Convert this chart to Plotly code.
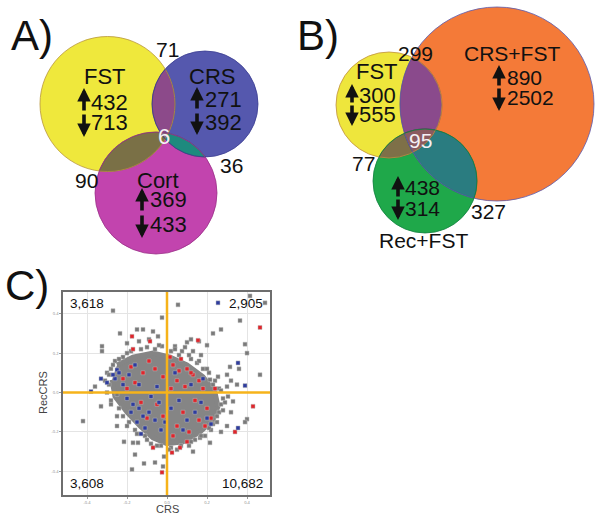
import math
import plotly.graph_objects as go

W, H = 602, 519

# ---------------- data ----------------
venn_a_sets = ["FST", "CRS", "Cort"]
venn_a_up = [432, 271, 369]
venn_a_down = [713, 392, 433]
venn_a_pairs = [71, 90, 36]        # FST&CRS, FST&Cort, CRS&Cort
venn_a_triple = 6

venn_b_sets = ["FST", "CRS+FST", "Rec+FST"]
venn_b_up = [300, 890, 438]
venn_b_down = [555, 2502, 314]
venn_b_pairs = [299, 77, 327]      # FST&CRS+FST, FST&Rec+FST, CRS+FST&Rec+FST
venn_b_triple = 95

quadrant_labels = ["3,618", "2,905", "3,608", "10,682"]  # TL, TR, BL, BR
tick_vals = [-0.4, -0.2, 0.0, 0.2, 0.4]
tick_text = ["-0.4", "-0.2", "0.0", "0.2", "0.4"]

# dense core of the scatter cloud (outline)
cloud_x = [-0.25, -0.17, -0.07, 0.015, 0.10, 0.18, 0.24, 0.255, 0.23, 0.165, 0.08, 0.0,
           -0.07, -0.135, -0.20, -0.26, -0.275]
cloud_y = [0.14, 0.18, 0.20, 0.18, 0.14, 0.08, 0.0, -0.07, -0.14, -0.20, -0.25, -0.26,
           -0.23, -0.17, -0.10, -0.02, 0.065]

gray_x = [0.055, -0.27, -0.025, 0.365, 0.415, 0.49, 0.27, 0.23, 0.16, 0.2, 0.10, 0.12, 0.39, 0.40,
          0.315, 0.36, 0.465, 0.30, 0.255, 0.215, 0.305, 0.33, 0.40, 0.39, 0.27, 0.23, 0.215, 0.165,
          0.13, -0.015, -0.02, -0.06, -0.115, -0.175, -0.145, -0.17, -0.215, -0.16, -0.25, -0.42,
          -0.325, -0.325, -0.235, -0.25, -0.15, -0.12, -0.07, -0.2, -0.045, -0.025, 0.04, 0.075,
          -0.28, -0.30, -0.26, -0.22, -0.18, -0.10, -0.06, 0.02, 0.06, 0.12, 0.15, 0.18, 0.21, 0.23,
          0.26, 0.28, 0.27, 0.26, 0.25, 0.22, 0.19, 0.14, 0.11, 0.05, 0.02, -0.03, -0.08, -0.11,
          -0.16, -0.19, -0.22, -0.24, -0.28, -0.30, -0.29, -0.31, 0.32, 0.35, 0.30, 0.13, 0.17,
          0.09, -0.14, -0.09, -0.33, -0.36, 0.30, 0.32,
          -0.29, -0.27, -0.24, -0.20, -0.13, -0.04, 0.04, 0.11, 0.16, 0.20, 0.24, 0.27, 0.29,
          0.28, 0.25, 0.21, 0.17, 0.12, 0.07, 0.01, -0.05, -0.10, -0.15, -0.20, -0.25, -0.28]
gray_y = [0.445, 0.415, 0.38, 0.365, 0.49, 0.455, 0.32, 0.30, 0.26, 0.24, 0.255, 0.27, 0.245, 0.20,
          0.13, 0.12, 0.09, 0.03, 0.08, 0.065, -0.02, -0.045, -0.135, -0.15, -0.20, -0.16, -0.255,
          -0.23, -0.30, -0.325, -0.375, -0.355, -0.36, -0.39, -0.255, -0.255, -0.25, -0.315, -0.17,
          -0.145, 0.235, 0.21, 0.30, -0.01, 0.32, 0.32, 0.31, 0.25, 0.285, 0.235, 0.235, 0.21,
          0.12, 0.10, 0.16, 0.18, 0.21, 0.23, 0.22, 0.21, 0.19, 0.17, 0.15, 0.12, 0.10, 0.04,
          0.02, -0.03, -0.06, -0.10, -0.12, -0.19, -0.22, -0.24, -0.27, -0.29, -0.28, -0.27, -0.26,
          -0.22, -0.19, -0.15, -0.12, -0.08, -0.04, 0.00, 0.04, 0.06, 0.06, 0.04, 0.09, 0.21, 0.19,
          0.23, 0.26, 0.27, -0.07, 0.03, -0.17, -0.10,
          0.09, 0.14, 0.17, 0.20, 0.22, 0.24, 0.22, 0.19, 0.16, 0.12, 0.06, 0.01, -0.05,
          -0.09, -0.15, -0.18, -0.22, -0.25, -0.27, -0.29, -0.27, -0.24, -0.21, -0.17, -0.12, -0.06]

red_x = [0.465, 0.43, 0.34, 0.10, 0.065, 0.025, -0.025, -0.07, -0.175, -0.085, -0.17, 0.015, 0.155,
         0.03, 0.06, 0.10, 0.13, 0.16, 0.05, 0.09, 0.12, 0.02, -0.02, -0.06, -0.12, -0.16, -0.18,
         -0.09, 0.18, 0.14, 0.20, 0.16, 0.22, 0.08, 0.05, 0.11, -0.05, -0.13, -0.10, 0.03, -0.02,
         0.07, -0.20, -0.22, 0.19, 0.24]
red_y = [0.33, -0.07, -0.20, -0.25, -0.28, -0.305, -0.405, -0.28, 0.285, 0.26, 0.22, 0.18, 0.265,
         0.14, 0.11, 0.12, 0.09, 0.06, 0.06, 0.03, 0.10, 0.02, 0.08, 0.12, 0.10, 0.05, 0.13,
         0.16, 0.02, -0.04, -0.08, -0.14, -0.13, -0.10, -0.17, -0.20, -0.06, -0.05, -0.13, -0.22,
         -0.12, 0.17, 0.02, 0.07, -0.17, 0.02]

blue_x = [0.255, 0.355, 0.39, 0.355, -0.38, -0.33, -0.30, -0.25, -0.20, -0.17, -0.14, -0.12, -0.09,
          -0.06, -0.15, -0.04, -0.08, -0.11, -0.03, -0.18, -0.22, -0.19, -0.24, -0.14, -0.16, -0.05,
          0.02, 0.06, 0.10, 0.14, 0.17, 0.08, 0.20, 0.12, 0.04, 0.18, -0.01, -0.13, 0.22, -0.26,
          -0.27]
blue_y = [0.455, 0.15, 0.035, -0.18, 0.005, 0.07, 0.05, 0.115, -0.03, -0.06, -0.08, -0.12, -0.10,
          -0.14, -0.15, -0.05, -0.02, -0.18, -0.19, -0.10, 0.04, 0.09, 0.10, 0.04, 0.14, 0.03,
          -0.08, -0.04, -0.14, -0.10, -0.05, -0.19, -0.13, 0.04, 0.10, 0.07, -0.15, -0.21, -0.16,
          0.07, 0.09]

FONT = "Liberation Sans, Arial"


# ---------------- helpers (pixel -> paper) ----------------
def X(px):
    return px / W


def Y(py):
    return 1 - py / H


def circle_pts(c, n=240):
    cx, cy, r = c
    return [(cx + r * math.cos(2 * math.pi * k / n), cy + r * math.sin(2 * math.pi * k / n))
            for k in range(n)]


def clip_convex(subject, clip, center):
    """Sutherland-Hodgman clipping of `subject` by convex polygon `clip`."""
    out = subject
    n = len(clip)
    for i in range(n):
        e1, e2 = clip[i], clip[(i + 1) % n]

        def side(p):
            return (e2[0] - e1[0]) * (p[1] - e1[1]) - (e2[1] - e1[1]) * (p[0] - e1[0])

        sc = side(center)

        def inside(p):
            return side(p) * sc >= 0

        def inter(p, q):
            sp, sq = side(p), side(q)
            t = sp / (sp - sq)
            return (p[0] + t * (q[0] - p[0]), p[1] + t * (q[1] - p[1]))

        inp = out
        out = []
        if not inp:
            break
        m = len(inp)
        for j in range(m):
            p, q = inp[j], inp[(j + 1) % m]
            ip, iq = inside(p), inside(q)
            if ip and iq:
                out.append(q)
            elif ip and not iq:
                out.append(inter(p, q))
            elif not ip and iq:
                out.append(inter(p, q))
                out.append(q)
    return out


def clip_circle(poly, c):
    return clip_convex(poly, circle_pts(c), (c[0], c[1]))


def path_of(pts):
    return "M " + " L ".join(f"{X(x):.5f},{Y(y):.5f}" for x, y in pts) + " Z"


shapes = []
annotations = []


def add_circle(c, fill):
    cx, cy, r = c
    shapes.append(dict(type="circle", xref="paper", yref="paper", x0=X(cx - r), x1=X(cx + r),
                       y0=Y(cy + r), y1=Y(cy - r), fillcolor=fill, line=dict(width=0)))


def add_outline(c, line):
    cx, cy, r = c
    shapes.append(dict(type="circle", xref="paper", yref="paper", x0=X(cx - r), x1=X(cx + r),
                       y0=Y(cy + r), y1=Y(cy - r), fillcolor="rgba(0,0,0,0)",
                       line=dict(width=0.8, color=line)))


def add_poly(pts, fill):
    if len(pts) > 2:
        shapes.append(dict(type="path", xref="paper", yref="paper", path=path_of(pts),
                           fillcolor=fill, line=dict(width=0.6, color="rgba(60,60,60,0.45)")))


def text(px, py, s, size=22, color="#111111", xanchor="center"):
    annotations.append(dict(x=X(px), y=Y(py), xref="paper", yref="paper", text=s, showarrow=False,
                            xanchor=xanchor, yanchor="middle",
                            font=dict(family=FONT, size=size, color=color)))


def arrow(px, ytop, ybot, up=True):
    if up:
        tip, tail = ytop, ybot
    else:
        tip, tail = ybot, ytop
    annotations.append(dict(x=X(px), y=Y(tip), xref="paper", yref="paper", ax=0,
                            ay=tail - tip, text="", showarrow=True, arrowhead=2,
                            arrowsize=0.75, arrowwidth=3.6, arrowcolor="#111111"))


def venn(circles, fills, outlines, pair_fills, triple_fill):
    for c, f in zip(circles, fills):
        add_circle(c, f)
    pairs = [(0, 1), (0, 2), (1, 2)]
    for (i, j), f in zip(pairs, pair_fills):
        add_poly(clip_circle(circle_pts(circles[i]), circles[j]), f)
    tri = clip_circle(clip_circle(circle_pts(circles[0]), circles[1]), circles[2])
    add_poly(tri, triple_fill)
    for c, l in zip(circles, outlines):
        add_outline(c, l)


# ---------------- panel A ----------------
circ_a = [(107.5, 104, 67.5), (205, 104, 53), (156, 193, 61)]
venn(circ_a, ["#EFE83C", "#5558AE", "#C244AE"], ["#B8953A", "#3A3C90", "#9A3088"],
     ["#8C4A8A", "#7A7046", "#1E8A7E"], "#8E6E80")

text(32, 36, "A)", size=42)
text(105, 76, venn_a_sets[0])
text(212, 76, venn_a_sets[1])
text(158, 180, venn_a_sets[2])
a_num_pos = [(84, 89, (88, 112), (113, 137), 102, 123),
             (197, 203, (87, 110), (112, 135), 100, 122),
             (142, 148, (188, 212), (214, 238), 200, 225)]
for k, (ax_, nx, ur, dr, yu, yd) in enumerate(a_num_pos):
    arrow(ax_, ur[0], ur[1], True)
    arrow(ax_, dr[0], dr[1], False)
    text(nx, yu, str(venn_a_up[k]), xanchor="left")
    text(nx, yd, str(venn_a_down[k]), xanchor="left")
text(167, 50, str(venn_a_pairs[0]), size=21)
text(86, 180, str(venn_a_pairs[1]), size=21)
text(231, 165, str(venn_a_pairs[2]), size=21)
text(164, 137, str(venn_a_triple), size=22, color="#F4F0F4")

# ---------------- panel B ----------------
circ_b = [(389, 105, 53), (497, 104, 97), (425, 181, 52)]
venn(circ_b, ["#EEE63C", "#F47A38", "#1FA84A"], ["#C09040", "#5A5AB0", "#128040"],
     ["#8A4A8C", "#7E7048", "#2A7C80"], "#8A5A60")

text(318, 36, "B)", size=42)
text(377, 72, venn_b_sets[0], size=22)
text(512, 53, venn_b_sets[1], size=21)
text(423, 240, venn_b_sets[2], size=21)
b_num_pos = [(352, 357, (84, 104), (104, 126), 95, 114, 22),
             (499, 505, (65, 87), (87, 111), 77, 97, 21),
             (398, 403, (176, 198), (198, 220), 188, 208, 21)]
for k, (ax_, nx, ur, dr, yu, yd, fs) in enumerate(b_num_pos):
    arrow(ax_, ur[0], ur[1], True)
    arrow(ax_, dr[0], dr[1], False)
    text(nx, yu, str(venn_b_up[k]), xanchor="left", size=fs)
    text(nx, yd, str(venn_b_down[k]), xanchor="left", size=fs)
text(415, 53, str(venn_b_pairs[0]), size=21)
text(363, 163, str(venn_b_pairs[1]), size=21)
text(488, 212, str(venn_b_pairs[2]), size=21)
text(420, 140, str(venn_b_triple), size=21, color="#F4F0F4")

# ---------------- panel C ----------------
text(27, 285, "C)", size=42)
text(167, 509, "CRS", size=11, color="#444444")
annotations.append(dict(x=X(43), y=Y(393), xref="paper", yref="paper", text="RecCRS",
                        showarrow=False, textangle=-90, xanchor="center", yanchor="middle",
                        font=dict(family=FONT, size=11, color="#444444")))

fig = go.Figure()
fig.add_trace(go.Scatter(x=cloud_x, y=cloud_y, mode="lines", fill="toself",
                         fillcolor="#858585", line=dict(color="#858585", width=5),
                         hoverinfo="skip", showlegend=False))
mk = dict(symbol="square", size=4, line=dict(width=0.5, color="#BBBBBB"))
fig.add_trace(go.Scatter(x=gray_x, y=gray_y, mode="markers", showlegend=False,
                         marker=dict(color="#7A7A7A", **mk)))
fig.add_trace(go.Scatter(x=red_x, y=red_y, mode="markers", showlegend=False,
                         marker=dict(color="#E0252B", **mk)))
fig.add_trace(go.Scatter(x=blue_x, y=blue_y, mode="markers", showlegend=False,
                         marker=dict(color="#2E3C9E", **mk)))

shapes.append(dict(type="line", xref="x", yref="y domain", x0=0, x1=0, y0=0, y1=1,
                   line=dict(color="#F6B31A", width=2.5)))
shapes.append(dict(type="line", xref="x domain", yref="y", x0=0, x1=1, y0=0, y1=0,
                   line=dict(color="#F6B31A", width=2.5)))

qpos = [(0.025, 0.945, "left"), (0.975, 0.945, "right"), (0.025, 0.055, "left"),
        (0.975, 0.055, "right")]
for (qx, qy, anc), lab in zip(qpos, quadrant_labels):
    annotations.append(dict(x=qx, y=qy, xref="x domain", yref="y domain", text=lab,
                            showarrow=False, xanchor=anc, yanchor="middle",
                            font=dict(family=FONT, size=13.5, color="#111111")))

axis_common = dict(showline=True, mirror=True, linecolor="#6E6E6E", linewidth=1.5,
                   showgrid=True, gridcolor="#E4E4E4", gridwidth=0.6, zeroline=False,
                   tickvals=tick_vals, ticktext=tick_text, ticks="outside", ticklen=2,
                   tickcolor="#999999", tickfont=dict(size=4, color="#888888"))

fig.update_layout(
    width=W, height=H,
    margin=dict(l=0, r=0, t=0, b=0, pad=0),
    paper_bgcolor="white", plot_bgcolor="white",
    xaxis=dict(domain=[63 / W, 270 / W], range=[-0.52, 0.515], **axis_common),
    yaxis=dict(domain=[1 - 495 / H, 1 - 292 / H], range=[-0.52, 0.51], **axis_common),
    shapes=shapes,
    annotations=annotations,
)

fig.write_html("out.html", config={"displayModeBar": False},
               post_script="document.body.style.margin='0';document.body.style.overflow='hidden';")
